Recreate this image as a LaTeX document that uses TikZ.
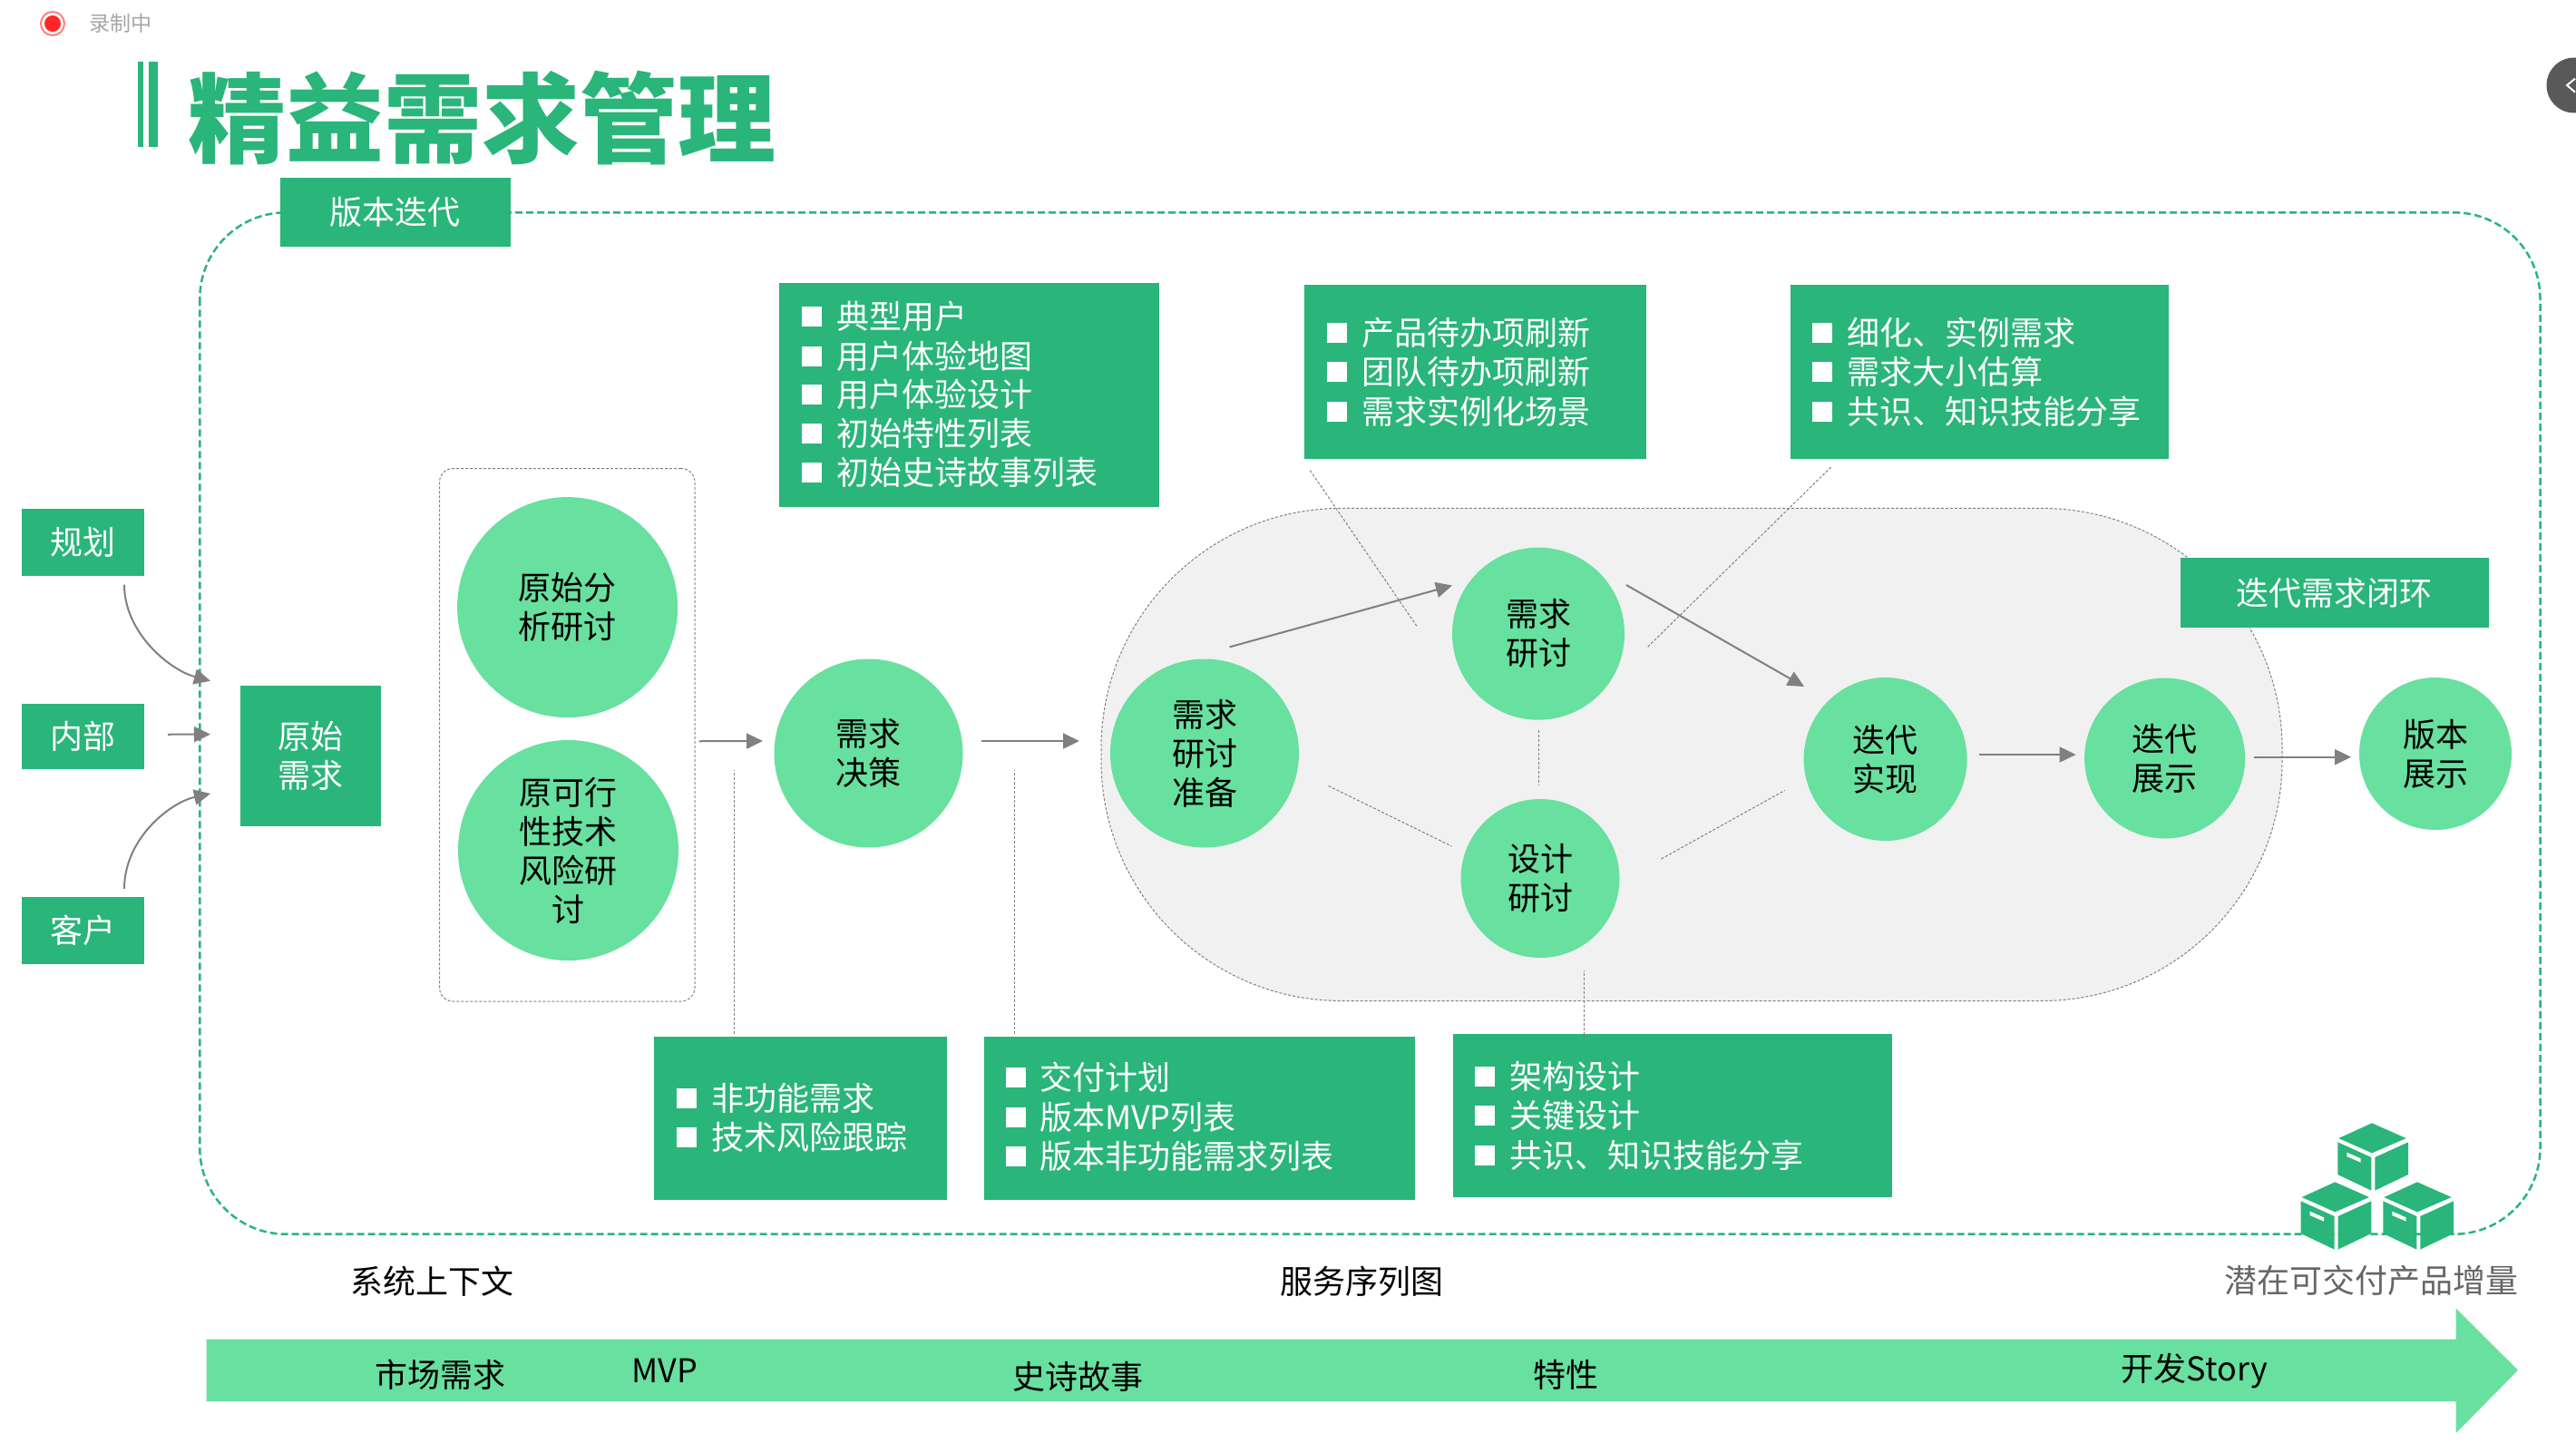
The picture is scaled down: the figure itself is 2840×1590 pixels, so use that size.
\documentclass[tikz,border=0pt]{standalone}
\usepackage{fontspec}
\setmainfont{Noto Sans CJK SC}
\usetikzlibrary{arrows.meta,calc}
\definecolor{leaf}{HTML}{2AB57A}
\definecolor{mint}{HTML}{68E09F}
\definecolor{ash}{HTML}{808080}
\definecolor{pale}{HTML}{F1F1F1}
\tikzset{
  greenbox/.style={fill=leaf,text=white,inner sep=0pt,outer sep=0pt,align=center},
  bubble/.style={circle,fill=mint,text=black,inner sep=0pt,outer sep=0pt,align=center},
  tick/.style={fill=white,inner sep=0pt,outer sep=0pt,minimum size=22pt},
  itemtext/.style={anchor=west,text=white,inner sep=0pt,outer sep=0pt},
  plaintext/.style={inner sep=0pt,outer sep=0pt},
  flow/.style={draw=ash,line width=2pt,-{Triangle[length=18pt,width=17pt]}},
  guide/.style={draw=ash,line width=1pt,dash pattern=on 3pt off 2pt},
  crate/.pic={
    \fill[leaf] (0,0)--(37.7,16.7)--(0,33)--(-36.7,16.7)--cycle;
    \fill[leaf] (-37.7,21)--(-.7,37.7)--(-.7,74.3)--(-37.7,56.7)--cycle;
    \fill[leaf] (3.3,37.7)--(40,21)--(40,56.7)--(3.3,74.3)--cycle;
    \fill[white] (-27.7,32.3)--(-12.3,39)--(-12.3,43.3)--(-27.7,36.7)--cycle;
  }
}
\begin{document}
\begin{tikzpicture}[x=1pt,y=-1pt,font=\fontsize{36}{43}\selectfont]
\useasboundingbox (0,0) rectangle (2840,1590);
% recording mark and side handle
\node[circle,draw=red!50,line width=2pt,fill=white,minimum size=26pt,inner sep=0pt] (recring) at (58,26) {};
\node[circle,fill=red!85,minimum size=18pt,inner sep=0pt] (recdot) at (58,26) {};
\node[plaintext,text=black!35,font=\fontsize{23}{26}\selectfont] (rectext) at (133,26) {录制中};
\fill[black!65] (2838,94) circle (30.5);
\draw[white,line width=2pt] (2839,86.7)--(2830,94)--(2839,101.7);
% title
\fill[leaf] (151.5,68) rectangle (158,162);
\fill[leaf] (163.6,68) rectangle (174,162);
\node[plaintext,text=leaf,font=\fontsize{108}{120}\selectfont\bfseries] (title) at (531,130) {精益需求管理};
% outer frame and loop area
\draw[leaf,line width=2.5pt,dash pattern=on 8pt off 4pt,rounded corners=95pt] (220.3,234.3) rectangle (2800.5,1360.7);
\node[greenbox,minimum width=253.6pt,minimum height=76pt] (iterbox) at (435.8,233.7) {版本迭代};
\filldraw[fill=pale,draw=ash,line width=1pt,dash pattern=on 3pt off 2pt,rounded corners=265pt] (1214,560.4) rectangle (2516,1103.5);
\node[draw=ash,line width=1pt,dash pattern=on 3pt off 2pt,rounded corners=15pt,minimum width=281.5pt,minimum height=587.5pt] (grp) at (625.25,810.25) {};
% sources
\node[greenbox,minimum width=135pt,minimum height=73.7pt] (plan) at (91.5,597.8) {规划};
\node[greenbox,minimum width=135pt,minimum height=71.5pt] (inner) at (91.5,811.75) {内部};
\node[greenbox,minimum width=135pt,minimum height=73.6pt] (cust) at (91.5,1025.8) {客户};
\node[greenbox,minimum width=155pt,minimum height=154.2pt] (raw) at (342.5,833.5) {原始\\需求};
% bubbles
\node[bubble,minimum size=243pt] (rawtalk) at (625.6,669.6) {原始分\\析研讨};
\node[bubble,minimum size=243pt] (risktalk) at (626.5,937.5) {原可行\\性技术\\风险研\\讨};
\node[bubble,minimum size=208pt] (dec) at (957.5,830.5) {需求\\决策};
\node[bubble,minimum size=208pt] (prep) at (1328,830.5) {需求\\研讨\\准备};
\node[bubble,minimum size=190pt] (req) at (1696,698.7) {需求\\研讨};
\node[bubble,minimum size=175pt] (design) at (1698,968.5) {设计\\研讨};
\node[bubble,minimum size=180pt] (impl) at (2078.6,837) {迭代\\实现};
\node[bubble,minimum size=177pt] (demo) at (2386.6,836) {迭代\\展示};
\node[bubble,minimum size=168pt] (ver) at (2685,831) {版本\\展示};
% lists above
\node[greenbox,minimum width=418.5pt,minimum height=247pt] (boxuser) at (1068.7,435.5) {};
\foreach \y/\txt in {349/典型用户,393/用户体验地图,435/用户体验设计,478/初始特性列表,521/初始史诗故事列表}{
  \node[tick] (tickuser\y) at (895,\y) {};
  \node[itemtext] (itemuser\y) at (922,\y) {\txt};
}
\node[greenbox,minimum width=377pt,minimum height=191.6pt] (boxback) at (1626.5,409.8) {};
\foreach \y/\txt in {367/产品待办项刷新,410/团队待办项刷新,454/需求实例化场景}{
  \node[tick] (tickback\y) at (1473.5,\y) {};
  \node[itemtext] (itemback\y) at (1501,\y) {\txt};
}
\node[greenbox,minimum width=417.3pt,minimum height=191.6pt] (boxsize) at (2182.35,409.8) {};
\foreach \y/\txt in {367/细化、实例需求,410/需求大小估算,454/共识、知识技能分享}{
  \node[tick] (ticksize\y) at (2009,\y) {};
  \node[itemtext] (itemsize\y) at (2036.7,\y) {\txt};
}
\node[greenbox,minimum width=340pt,minimum height=77pt] (closeloop) at (2573.5,653.5) {迭代需求闭环};
% lists below
\node[greenbox,minimum width=322.4pt,minimum height=180pt] (boxnf) at (882.6,1233) {};
\foreach \y/\txt in {1211/非功能需求,1254/技术风险跟踪}{
  \node[tick] (ticknf\y) at (757,\y) {};
  \node[itemtext] (itemnf\y) at (784.8,\y) {\txt};
}
\node[greenbox,minimum width=475pt,minimum height=180pt] (boxplan) at (1322.3,1233) {};
\foreach \y/\txt in {1188/交付计划,1232/版本MVP列表,1275/版本非功能需求列表}{
  \node[tick] (tickplan\y) at (1120,\y) {};
  \node[itemtext] (itemplan\y) at (1146,\y) {\txt};
}
\node[greenbox,minimum width=483.9pt,minimum height=180pt] (boxarch) at (1843.75,1230) {};
\foreach \y/\txt in {1187/架构设计,1230/关键设计,1274/共识、知识技能分享}{
  \node[tick] (tickarch\y) at (1637,\y) {};
  \node[itemtext] (itemarch\y) at (1664,\y) {\txt};
}
% connectors
\draw[flow] ($(plan.south)+(45.5,10)$) .. controls +(0,53) and +(-45,-12) .. ($(raw.west)+(-33,-82.8)$);
\draw[flow] ($(inner.east)+(26,-2)$) -- ($(raw.west)+(-33,-23.9)$);
\draw[flow] ($(cust.north)+(45.5,-9)$) .. controls +(0,-55) and +(-45,10) .. ($(raw.west)+(-33,41.5)$);
\draw[flow] ($(grp.east)+(4,7)$) -- ($(dec.west)+(-12.5,-13.5)$);
\draw[flow] ($(dec.east)+(20.5,-13.5)$) -- ($(prep.west)+(-34,-13.5)$);
\draw[flow] ($(prep.north)+(27.5,-13.1)$) -- ($(req.west)+(0,-53.2)$);
\draw[flow] ($(req.east)+(2,-53.7)$) -- ($(impl.west)+(.4,-80)$);
\draw[flow] ($(impl.east)+(13.2,-5)$) -- ($(demo.west)+(-9.5,-4)$);
\draw[flow] ($(demo.east)+(9.5,-1.3)$) -- ($(ver.west)+(-9,3.7)$);
\draw[guide] ($(boxnf.north)+(-73.6,-3)$) -- ($(dec.west)+(-44.5,18)$);
\draw[guide] ($(boxplan.north)+(-204.3,-3)$) -- ($(dec.east)+(56.5,18)$);
\draw[guide] ($(boxback.south)+(-182.1,13.1)$) -- ($(req.west)+(-39,-8.3)$);
\draw[guide] ($(boxsize.south)+(-163.65,9.4)$) -- ($(req.east)+(25.3,14.8)$);
\draw[guide] ($(req.south)+(.7,10.9)$) -- ($(design.north)+(-1.3,-15)$);
\draw[guide] ($(prep.east)+(32.7,36)$) -- ($(design.west)+(-10,-35.5)$);
\draw[guide] ($(design.east)+(46,-21.5)$) -- ($(impl.west)+(-21,34.5)$);
\draw[guide] ($(boxarch.north)+(-97.15,6)$) -- ($(design.south)+(48.6,14)$);
% crates
\pic at (2615,1238.3) {crate};
\pic at (2574.3,1303.3) {crate};
\pic at (2665,1303.3) {crate};
% bottom labels and arrow
\node[plaintext] (ctx) at (476.7,1412.7) {系统上下文};
\node[plaintext] (seq) at (1501.7,1412.7) {服务序列图};
\node[plaintext,text=black!60] (incr) at (2614.3,1411.7) {潜在可交付产品增量};
\fill[mint] (227.7,1476.7)--(2707.7,1476.7)--(2707.7,1442.7)--(2776,1510.7)--(2707.7,1580)--(2707.7,1545)--(227.7,1545)--cycle;
\node[plaintext] (market) at (485.5,1516) {市场需求};
\node[plaintext] (mvp) at (732.5,1511.7) {MVP};
\node[plaintext] (epic) at (1188,1518) {史诗故事};
\node[plaintext] (feat) at (1726,1516) {特性};
\node[plaintext] (story) at (2419.5,1512) {开发Story};
\end{tikzpicture}
\end{document}
